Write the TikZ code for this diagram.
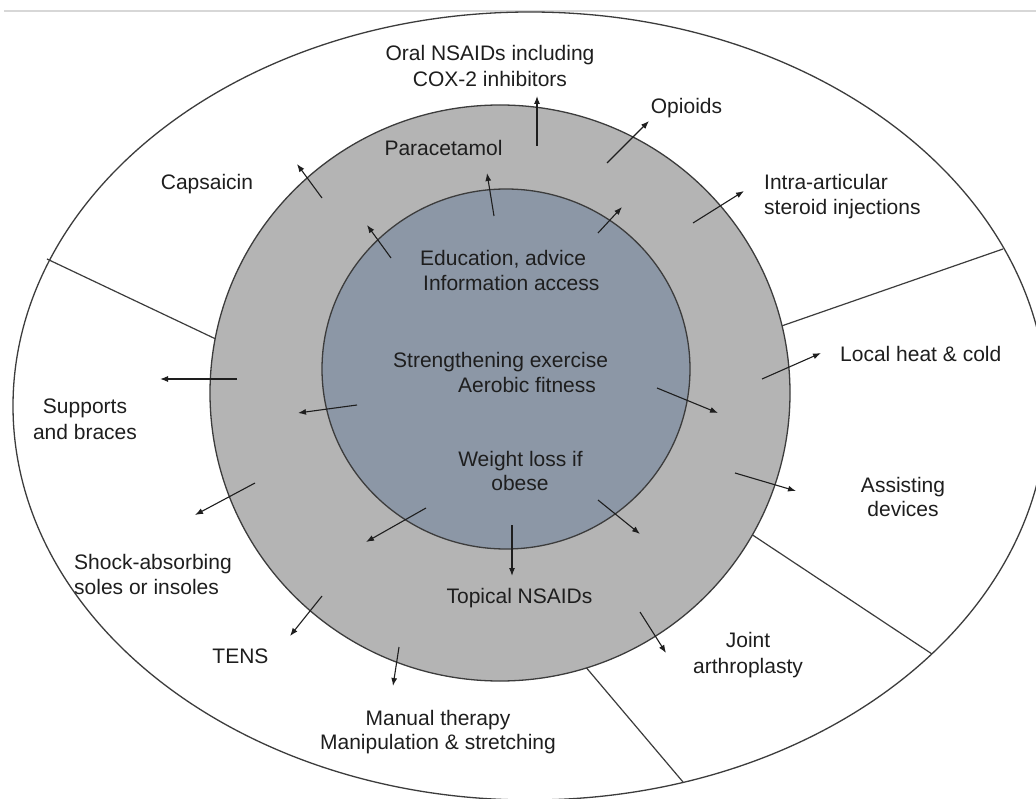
\documentclass[tikz,border=0pt]{standalone}
\usepackage{fontspec}
\setmainfont{Liberation Sans}
\usetikzlibrary{arrows.meta}
\definecolor{ringgray}{RGB}{180,180,180}
\definecolor{coreblue}{RGB}{140,151,166}
\definecolor{edgecol}{RGB}{60,60,60}
\definecolor{ink}{RGB}{30,30,30}
\definecolor{toplinecol}{RGB}{215,215,215}
\begin{document}
\begin{tikzpicture}[x=1pt,y=-1pt,
  lbl/.style={font=\fontsize{21}{25}\selectfont, text=ink, inner sep=0pt, anchor=base},
  lblw/.style={lbl, anchor=base west},
  arr/.style={draw=ink, line width=1.1pt, -{Latex[length=8pt,width=6pt]}},
  divider/.style={draw=edgecol, line width=1.2pt},
  ring/.style={draw=edgecol, line width=1.3pt}]
\useasboundingbox (0,0) rectangle (1036,799);
\clip (0,0) rectangle (1036,799);
\fill[white] (0,0) rectangle (1036,799);
% top rule
\coordinate (tl) at (4,11);
\coordinate (tr) at (1036,11);
\draw[toplinecol, line width=2pt] (tl) -- (tr);
% outer ellipse
\coordinate (oc) at (530,406);
\draw[ring] (oc) ellipse [x radius=517pt, y radius=394pt];
% dividers
\foreach \n/\ax/\ay/\bx/\by in {d1/47/259/220/341, d2/1003/249/770/330, d3/932/654/742/528, d4/683/782/584/665}{
  \coordinate (\n-o) at (\ax,\ay);
  \coordinate (\n-i) at (\bx,\by);
  \draw[divider] (\n-o) -- (\n-i);
}
% middle ring
\coordinate (mc) at (500,393);
\draw[ring, fill=ringgray] (mc) ellipse [x radius=290pt, y radius=288pt];
% core
\coordinate (cc) at (506,369);
\draw[ring, fill=coreblue] (cc) ellipse [x radius=184pt, y radius=180pt];
% arrows
\foreach \n/\ax/\ay/\bx/\by in {
  oral/537/146/537/96,
  opi/607/163/649/121,
  para/494/216/487/173,
  iur/598/233/622/207,
  iul/391/258/367/225,
  caps/322/198/297/164,
  intra/693/223/744/191,
  supp/237/379/160/379,
  il/357/405/298/413,
  shock/255/483/195/515,
  heat/762/379/821/353,
  ir/657/388/718/413,
  assist/735/473/796/491,
  ill/426/508/366/542,
  ilr/598/500/640/534,
  topi/512/525/512/576,
  tens/322/596/290/636,
  manual/399/647/393/686,
  joint/640/612/666/653}{
  \coordinate (\n-t) at (\ax,\ay);
  \coordinate (\n-h) at (\bx,\by);
  \draw[arr] (\n-t) -- (\n-h);
}
% labels
\node[lbl] (oral1) at (490,60.5) {Oral NSAIDs including};
\node[lbl] (oral2) at (490,86.5) {COX-2 inhibitors};
\node[lbl] (opioids) at (686.5,114) {Opioids};
\node[lbl] (paracet) at (443.5,156) {Paracetamol};
\node[lbl] (capsaicin) at (207,189.5) {Capsaicin};
\node[lblw] (intra1) at (764,190) {Intra-articular};
\node[lblw] (intra2) at (764,215) {steroid injections};
\node[lblw] (edu1) at (420,265.5) {Education, advice};
\node[lblw] (edu2) at (423,290.5) {Information access};
\node[lblw] (str1) at (393,367.7) {Strengthening exercise};
\node[lblw] (str2) at (458,392.7) {Aerobic fitness};
\node[lbl] (wl1) at (520.5,466) {Weight loss if};
\node[lbl] (wl2) at (520,490) {obese};
\node[lbl] (topical) at (519.5,603.7) {Topical NSAIDs};
\node[lbl] (man1) at (438,725.7) {Manual therapy};
\node[lbl] (man2) at (438,749.7) {Manipulation \& stretching};
\node[lbl] (tens) at (240.5,663.7) {TENS};
\node[lblw] (shock1) at (74,569) {Shock-absorbing};
\node[lblw] (shock2) at (74,594.7) {soles or insoles};
\node[lbl] (supp1) at (85,413.3) {Supports};
\node[lbl] (supp2) at (85,439.3) {and braces};
\node[lblw] (heat) at (840,362) {Local heat \& cold};
\node[lbl] (assist1) at (903,492.7) {Assisting};
\node[lbl] (assist2) at (903,516.7) {devices};
\node[lbl] (joint1) at (748,647) {Joint};
\node[lbl] (joint2) at (748,673) {arthroplasty};
\end{tikzpicture}
\end{document}
